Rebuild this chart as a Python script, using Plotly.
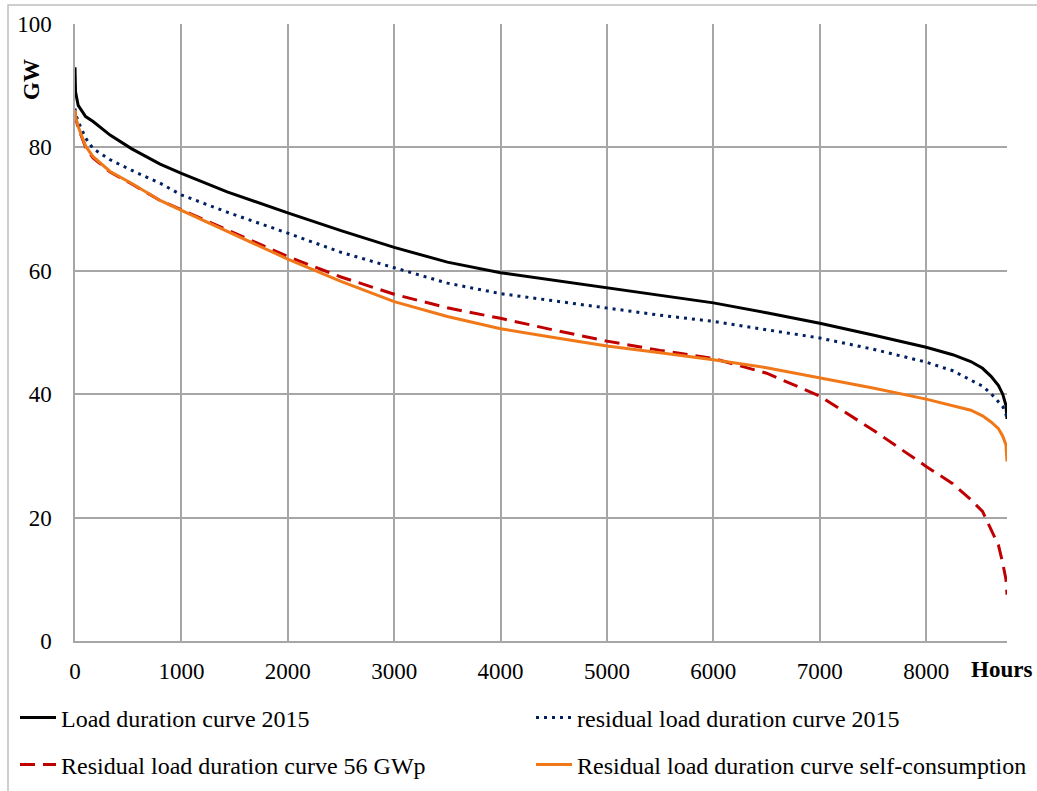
import plotly.graph_objects as go

# Hour of the year (sorted duration) shared by all curves
hours = [0, 5, 30, 100, 170, 330, 530, 800, 1000, 1430, 2000, 2500, 3000, 3500,
         4000, 4500, 5000, 5500, 6000, 6500, 7000, 7500, 8000, 8250, 8420, 8530,
         8610, 8680, 8720, 8750, 8760]

load_2015 = [93.0, 89.0, 86.8, 85.0, 84.2, 82.0, 79.8, 77.3, 75.8, 72.8, 69.4, 66.5,
             63.8, 61.4, 59.7, 58.5, 57.3, 56.1, 54.8, 53.2, 51.5, 49.6, 47.6, 46.4,
             45.3, 44.2, 42.9, 41.4, 40.0, 38.2, 36.0]

residual_2015 = [86.3, 85.5, 84.2, 81.5, 79.8, 78.0, 76.3, 74.2, 72.3, 69.5, 66.1, 63.0,
                 60.5, 58.0, 56.3, 55.1, 53.9, 52.8, 51.8, 50.5, 49.1, 47.3, 45.2, 43.8,
                 42.3, 41.3, 40.1, 38.8, 38.0, 36.8, 35.8]

residual_56gwp = [85.8, 84.8, 83.2, 80.0, 78.3, 76.0, 74.1, 71.4, 69.9, 66.6, 62.3, 59.0,
                  56.2, 54.0, 52.3, 50.4, 48.6, 47.1, 45.8, 43.4, 39.7, 34.2, 28.3, 25.5,
                  22.9, 21.0, 18.0, 15.5, 12.6, 10.0, 7.5]

residual_selfcons = [86.1, 85.0, 83.4, 80.2, 78.5, 76.1, 74.2, 71.4, 69.8, 66.4, 61.9, 58.3,
                     55.0, 52.6, 50.6, 49.2, 47.8, 46.7, 45.6, 44.3, 42.7, 41.0, 39.2, 38.2,
                     37.4, 36.5, 35.5, 34.4, 33.2, 31.8, 29.1]

x_ticks = [0, 1000, 2000, 3000, 4000, 5000, 6000, 7000, 8000]
y_ticks = [0, 20, 40, 60, 80, 100]

FONT = "Liberation Serif"
W, H = 1037, 791
L, R, T, B = 75, 30, 24, 150
PW, PH = W - L - R, H - T - B


def px_x(p):
    return (p - L) / PW


def px_y(p):
    return (H - B - p) / PH


series = [
    ("Load duration curve 2015", load_2015,
     dict(color="#000000", width=3), "legend", (15, 718)),
    ("residual load duration curve 2015", residual_2015,
     dict(color="#002060", width=3, dash="3px,5px"), "legend2", (531, 718)),
    ("Residual load duration curve 56 GWp", residual_56gwp,
     dict(color="#C00000", width=3, dash="15px,8px"), "legend3", (15, 765)),
    ("Residual load duration curve self-consumption", residual_selfcons,
     dict(color="#F07818", width=3), "legend4", (531, 765)),
]

fig = go.Figure()
legends = {}
for name, values, line, leg, (lx, ly) in series:
    fig.add_trace(go.Scatter(x=hours, y=values, mode="lines", name=name,
                             line=line, legend=leg))
    legends[leg] = dict(x=px_x(lx), y=px_y(ly), xanchor="left", yanchor="middle",
                        orientation="h", bgcolor="rgba(0,0,0,0)", itemwidth=36,
                        font=dict(family=FONT, size=24, color="#000000"))

grid = "#A6A6A6"
axis_font = dict(family=FONT, size=23, color="#000000")

fig.update_layout(
    width=W, height=H,
    margin=dict(l=L, r=R, t=T, b=B, autoexpand=False),
    paper_bgcolor="white", plot_bgcolor="white",
    font=dict(family=FONT, size=23, color="#000000"),
    showlegend=True,
    **legends,
    xaxis=dict(range=[0, 8760], tickvals=x_ticks, showgrid=True, gridcolor=grid,
               gridwidth=1.5, showline=True, linecolor=grid, linewidth=1.5,
               zeroline=False, ticks="", ticklabelstandoff=9, tickfont=axis_font),
    yaxis=dict(range=[0, 100], tickvals=y_ticks, showgrid=True, gridcolor=grid,
               gridwidth=1.5, showline=True, linecolor=grid, linewidth=1.5,
               zeroline=False, ticks="", ticklabelstandoff=17, tickfont=axis_font),
    annotations=[
        dict(text="<b>GW</b>", xref="paper", yref="paper", x=px_x(31), y=px_y(80),
             xanchor="center", yanchor="middle",
             showarrow=False, textangle=-90, font=axis_font),
        dict(text="<b>Hours</b>", xref="paper", yref="paper", x=px_x(1001), y=px_y(669),
             xanchor="center", yanchor="middle",
             showarrow=False, font=axis_font),
    ],
    shapes=[
        dict(type="rect", xref="paper", yref="paper", x0=px_x(8), x1=px_x(1060),
             y0=px_y(820), y1=px_y(5), line=dict(color="#BFBFBF", width=1.5),
             fillcolor="rgba(0,0,0,0)", layer="below"),
    ],
)

fig.write_html("out.html")
